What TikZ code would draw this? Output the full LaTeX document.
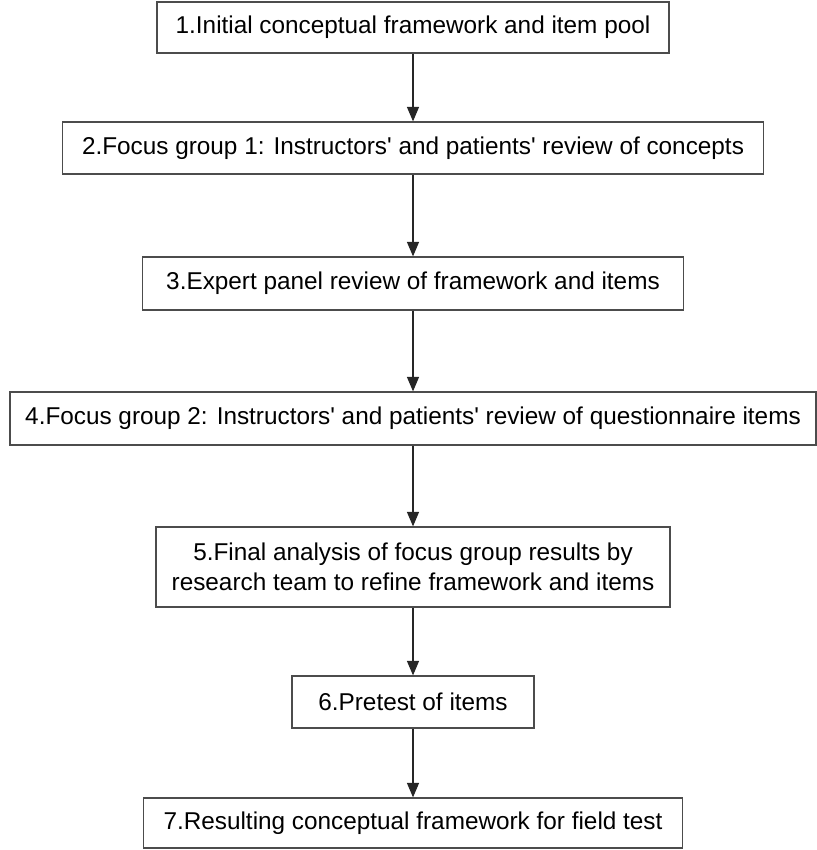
\documentclass[tikz,border=0pt]{standalone}
\usepackage{fontspec}
\setmainfont{Liberation Sans}
\colorlet{BoxBorder}{black!70}
\colorlet{FlowLine}{black!85}
\usetikzlibrary{arrows.meta}

\begin{document}
\begin{tikzpicture}[x=0.025cm, y=-0.025cm,
  stage/.style={draw=BoxBorder, line width=0.9pt, inner sep=0pt, align=center,
                font=\fontsize{17.3}{21}\selectfont},
  flow/.style={draw=FlowLine, line width=0.8pt,
               -{Triangle[width=0.3cm, length=0.36cm]}}]

\useasboundingbox (0,0) rectangle (817,850);

\node [stage, minimum width=12.8cm, minimum height=1.275cm] (pool) at (413,27.5)
      {1.Initial conceptual framework and item pool};
\node [stage, minimum width=17.525cm, minimum height=1.3cm] (focusA) at (413,148)
      {2.Focus group 1: Instructors\textquotesingle\ and patients\textquotesingle\ review of concepts};
\node [stage, minimum width=13.525cm, minimum height=1.325cm] (panel) at (413,283.5)
      {3.Expert panel review of framework and items};
\node [stage, minimum width=20.15cm, minimum height=1.325cm] (focusB) at (413,418.5)
      {4.Focus group 2: Instructors\textquotesingle\ and patients\textquotesingle\ review of questionnaire items};
\node [stage, minimum width=12.85cm, minimum height=2cm] (final) at (413,567)
      {5.Final analysis of focus group results by\\research team to refine framework and items};
\node [stage, minimum width=6.05cm, minimum height=1.3cm] (pretest) at (413,702)
      {6.Pretest of items};
\node [stage, minimum width=13.475cm, minimum height=1.25cm] (result) at (413,823)
      {7.Resulting conceptual framework for field test};

\draw [flow] (pool) -- (focusA);
\draw [flow] (focusA) -- (panel);
\draw [flow] (panel) -- (focusB);
\draw [flow] (focusB) -- (final);
\draw [flow] (final) -- (pretest);
\draw [flow] (pretest) -- (result);

\end{tikzpicture}
\end{document}
